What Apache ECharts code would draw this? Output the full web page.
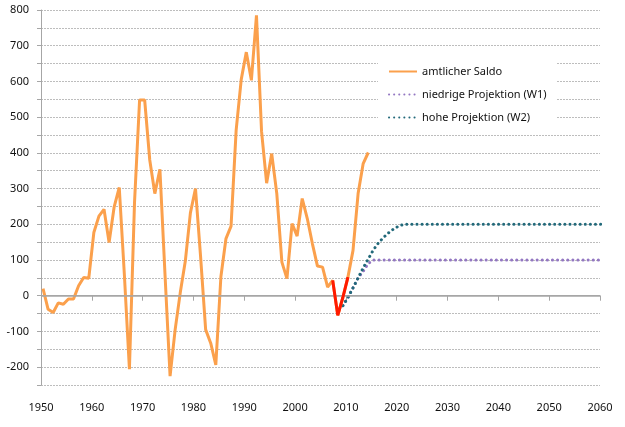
<!DOCTYPE html>
<html>
<head>
<meta charset="utf-8">
<script src="https://cdn.jsdelivr.net/npm/echarts@6/dist/echarts.min.js"></script>
<style>
  html, body { margin: 0; padding: 0; background: #fff; }
  #chart { width: 625px; height: 427px; }
</style>
</head>
<body>
<div id="chart"></div>
<script>
// amtlicher Wanderungssaldo (Tsd.), 1950-2014
var saldoYears = [];
for (var y = 1950; y <= 2014; y++) saldoYears.push(y);
var saldo = [
    20, -38, -47, -20, -24, -9, -9, 28, 51, 49,        // 1950-1959
    177, 223, 242, 149, 249, 303, 60, -206, 260, 548,  // 1960-1969
    548, 380, 286, 354, 60, -225, -95, 8, 97, 232,     // 1970-1979
    300, 110, -95, -133, -194, 53, 160, 195, 463, 605, // 1980-1989
    682, 603, 785, 460, 315, 398, 286, 94, 48, 202,    // 1990-1999
    167, 272, 216, 146, 83, 80, 24, 43, -55, -5,       // 2000-2009
    52, 127, 286, 370, 401                             // 2010-2014
];

// roter Abschnitt 2007-2010
var redYears = [2007, 2008, 2009, 2010];
var redValues = [43, -55, -5, 52];

// Projektionen
var w1Years = [2009, 2010, 2011, 2012, 2013, 2014, 2015, 2060];
var w1Values = [-28, -5, 22, 50, 68, 90, 100, 100];
var w2Years = [2009, 2010, 2011, 2012, 2013, 2014, 2015, 2016, 2017, 2018, 2019, 2020, 2021, 2060];
var w2Values = [-28, -5, 22, 50, 78, 103, 128, 148, 163, 176, 187, 195, 200, 200];

// Punkte sitzen im Original etwas rechts der Jahresstriche
var xOffset = 0.4;

function pairs(years, values) {
    return years.map(function (yr, i) { return [yr + xOffset, values[i]]; });
}

var font = 'Noto Sans';
var chart = echarts.init(document.getElementById('chart'));
var option = {
    animation: false,
    grid: { left: 41, right: 25, top: 10, bottom: 42 },
    legend: {
        data: ['amtlicher Saldo', 'niedrige Projektion (W1)', 'hohe Projektion (W2)'],
        orient: 'vertical',
        left: 378,
        top: 58,
        padding: [8, 10],
        itemWidth: 28,
        itemHeight: 12,
        itemGap: 12,
        backgroundColor: '#fff',
        itemStyle: { opacity: 0 },
        textStyle: { fontFamily: font, fontSize: 11, color: '#111' }
    },
    xAxis: {
        type: 'value',
        min: 1950,
        max: 2060,
        interval: 10,
        axisLine: { lineStyle: { color: '#a6a6a6' } },
        axisTick: { show: true, length: 5, lineStyle: { color: '#a6a6a6' } },
        splitLine: { show: false },
        axisLabel: {
            margin: 17,
            fontFamily: font,
            fontSize: 11,
            color: '#111',
            formatter: function (v) { return String(v); }
        }
    },
    yAxis: {
        type: 'value',
        min: -250,
        max: 800,
        interval: 50,
        axisLine: { show: true, lineStyle: { color: '#a6a6a6' } },
        axisTick: { show: true, length: 4, lineStyle: { color: '#a6a6a6' } },
        splitLine: { lineStyle: { color: '#bdbdbd', type: [2, 1] } },
        axisLabel: {
            margin: 12,
            fontFamily: font,
            fontSize: 11,
            color: '#111',
            formatter: function (v) { return v % 100 === 0 ? String(v) : ''; }
        }
    },
    series: [
        {
            name: 'zero',
            type: 'line',
            data: [],
            z: 1,
            silent: true,
            markLine: {
                silent: true,
                symbol: 'none',
                label: { show: false },
                lineStyle: { color: '#a6a6a6', type: 'solid', width: 1.5 },
                data: [{ yAxis: 0 }]
            }
        },
        {
            name: 'niedrige Projektion (W1)',
            type: 'line',
            data: pairs(w1Years, w1Values),
            symbol: 'none',
            z: 2,
            lineStyle: { color: '#9377c2', width: 3, type: [0.1, 5], cap: 'round' },
            itemStyle: { color: '#9377c2' }
        },
        {
            name: 'hohe Projektion (W2)',
            type: 'line',
            data: pairs(w2Years, w2Values),
            symbol: 'none',
            z: 3,
            lineStyle: { color: '#22697a', width: 3, type: [0.1, 5], cap: 'round' },
            itemStyle: { color: '#22697a' }
        },
        {
            name: 'amtlicher Saldo',
            type: 'line',
            data: pairs(saldoYears, saldo),
            symbol: 'none',
            z: 4,
            lineStyle: { color: '#fba04c', width: 3 },
            itemStyle: { color: '#fba04c' }
        },
        {
            name: 'rot',
            type: 'line',
            data: pairs(redYears, redValues),
            symbol: 'none',
            z: 5,
            lineStyle: { color: '#ff1a00', width: 3 },
            itemStyle: { color: '#ff1a00' }
        }
    ]
};
chart.setOption(option);
</script>
</body>
</html>
